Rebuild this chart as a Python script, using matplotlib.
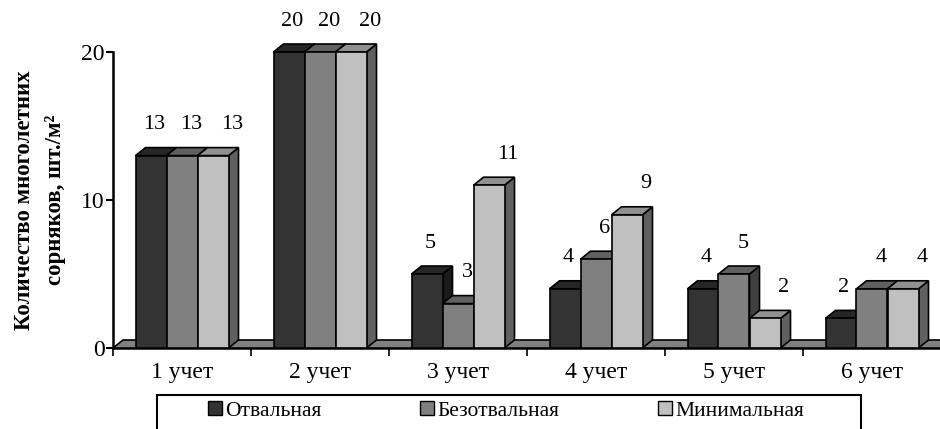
import matplotlib
matplotlib.use("Agg")
import matplotlib.pyplot as plt
import matplotlib.patches as patches
import numpy as np

# weed counts per observation and tillage system
categories = ["1 учет", "2 учет", "3 учет", "4 учет", "5 учет", "6 учет"]
series_names = ["Отвальная", "Безотвальная", "Минимальная"]
otvalnaya = [13, 20, 5, 4, 4, 2]
bezotvalnaya = [13, 20, 3, 6, 5, 4]
minimalnaya = [13, 20, 11, 9, 2, 4]
y_ticks = [0, 10, 20]
y_title = "Количество многолетних\nсорняков, шт./м²"

front_colors = ["#333333", "#808080", "#c0c0c0"]
top_colors = ["#262626", "#606060", "#909090"]
side_colors = ["#1a1a1a", "#404040", "#606060"]
label_dx = [3, 9, 19]  # px, label shift to the right per series

plt.rcParams["font.family"] = ["Liberation Serif", "DejaVu Serif"]

W, H = 940, 429
fig = plt.figure(figsize=(W / 100, H / 100), dpi=100)
ax = fig.add_axes([113 / W, 81 / H, 828 / W, 296 / H])

n = len(categories)
ax.set_xlim(0, n)
ax.set_ylim(0, 20)

# size of the pseudo-3d depth, converted to data units
px_x = 828 / n
px_y = 296 / 20
dx = 10 / px_x
dy = 8 / px_y

# floor
floor = patches.Polygon([(0, 0), (n, 0), (n + dx, dy), (dx, dy)], closed=True,
                        facecolor="#808080", edgecolor="black", lw=1.2,
                        clip_on=False, zorder=1)
ax.add_patch(floor)

data = [otvalnaya, bezotvalnaya, minimalnaya]
bw = 31 / px_x
z = 2
for i in range(n):
    for s, vals in enumerate(data):
        v = vals[i]
        x0 = i + 0.5 - 1.5 * bw + s * bw
        x1 = x0 + bw
        side = patches.Polygon([(x1, 0), (x1 + dx, dy), (x1 + dx, v + dy), (x1, v)],
                               closed=True, facecolor=side_colors[s],
                               edgecolor="black", lw=1.2, clip_on=False, zorder=z)
        top = patches.Polygon([(x0, v), (x1, v), (x1 + dx, v + dy), (x0 + dx, v + dy)],
                              closed=True, facecolor=top_colors[s],
                              edgecolor="black", lw=1.2, clip_on=False, zorder=z)
        ax.add_patch(side)
        ax.add_patch(top)
        ax.bar(x0, v, width=bw, align="edge", color=front_colors[s],
               edgecolor="black", lw=1.2, clip_on=False, zorder=z + 0.5)
        ax.annotate(str(v), (x0 + bw / 2, v), xytext=(label_dx[s], 31),
                    textcoords="offset pixels", ha="center", va="center",
                    fontsize=16, zorder=10, annotation_clip=False)
        z += 1

for sp in ["top", "right"]:
    ax.spines[sp].set_visible(False)
ax.spines["left"].set_linewidth(1.8)
ax.spines["bottom"].set_linewidth(1.8)
ax.spines["bottom"].set_zorder(0.5)
ax.patch.set_alpha(0)

ax.set_yticks(y_ticks)
ax.set_yticklabels([str(t) for t in y_ticks], fontsize=17)
ax.tick_params(axis="y", direction="out", length=5, width=1.5, pad=1)

ax.set_xticks(np.arange(n + 1))
ax.set_xticklabels([])
ax.set_xticks(np.arange(n) + 0.5, minor=True)
ax.set_xticklabels(categories, minor=True, fontsize=17)
ax.tick_params(axis="x", which="major", direction="out", length=6, width=1.2)
ax.tick_params(axis="x", which="minor", length=0, pad=10)

fig.text(40 / W, 1 - 200 / H, y_title, rotation=90, ha="center", va="center",
         fontsize=16.5, fontweight="bold", linespacing=1.65)

# legend with a frame running off the bottom edge
frame = patches.Rectangle((157 / W, -0.05), (861 - 157) / W, 1 - 395 / H + 0.05,
                          transform=fig.transFigure, facecolor="white",
                          edgecolor="black", lw=1.5)
fig.add_artist(frame)
handles = [patches.Patch(facecolor=c, edgecolor="black", lw=1.0) for c in front_colors]
fig.legend(handles, series_names, loc="center", bbox_to_anchor=(506 / W, 1 - 411 / H),
           ncol=3, frameon=False, fontsize=15.5, handlelength=0.65, handleheight=0.65,
           handletextpad=0.15, columnspacing=4.6, borderaxespad=0)

fig.savefig("out.png", dpi=100)
